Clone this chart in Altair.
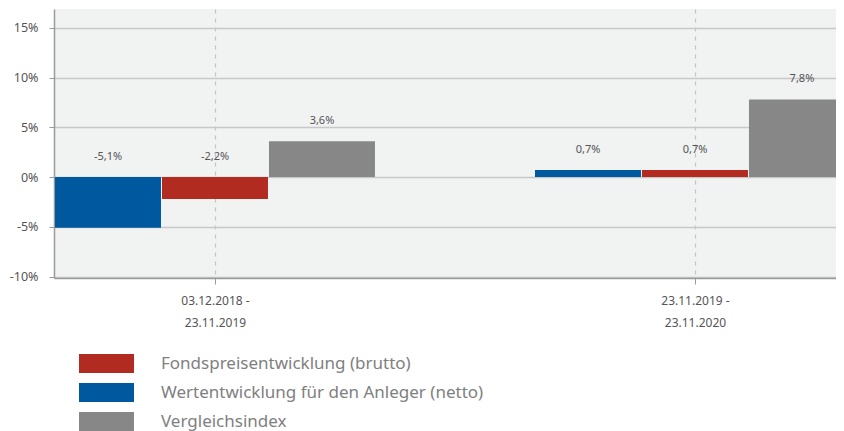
import altair as alt
import pandas as pd

periods = [["03.12.2018 -", "23.11.2019"], ["23.11.2019 -", "23.11.2020"]]
series_names = [
    "Fondspreisentwicklung (brutto)",
    "Wertentwicklung für den Anleger (netto)",
    "Vergleichsindex",
]
brutto = [-2.2, 0.7]
netto = [-5.1, 0.7]
index_vals = [3.6, 7.8]
bar_rank = {series_names[1]: 0, series_names[0]: 1, series_names[2]: 2}
colors = ["#b12b20", "#00599f", "#878787"]
y_ticks = [-10, -5, 0, 5, 10, 15]

rows = []
for i in range(len(periods)):
    for name, vals in zip(series_names, [brutto, netto, index_vals]):
        rows.append({"g": i, "rank": bar_rank[name], "series": name, "value": vals[i]})
df = pd.DataFrame(rows)

FONT = "Noto Sans"
STEP = 0.2229   # group-relative spacing of bars
BW = 0.2208     # bar width in group units

label_expr = "datum.value == 0 ? ['{a}', '{b}'] : ['{c}', '{d}']".format(
    a=periods[0][0], b=periods[0][1], c=periods[1][0], d=periods[1][1]
)

x_scale = alt.Scale(domain=[-0.3354, 1.2938], nice=False, zero=False)
y_scale = alt.Scale(domain=[-10.15, 16.9], nice=False, zero=False)

base = alt.Chart(df).transform_calculate(
    xc=f"datum.g + (datum.rank - 1) * {STEP}",
    x0=f"datum.g + (datum.rank - 1) * {STEP} - {BW / 2}",
    x1=f"datum.g + (datum.rank - 1) * {STEP} + {BW / 2}",
    ytop="max(datum.value, 0)",
    label="(datum.value < 0 ? '-' : '') + replace(format(abs(datum.value), '.1f'), '.', ',') + '%'",
)

bars = base.mark_bar(clip=True).encode(
    x=alt.X(
        "x0:Q",
        scale=x_scale,
        title=None,
        axis=alt.Axis(
            values=[0, 1],
            grid=True,
            gridDash=[4, 5],
            gridColor="#c4c4c4",
            gridWidth=1.2,
            labelAngle=0,
            labelExpr=label_expr,
            labelLineHeight=22,
            labelFontSize=12,
            labelColor="#555555",
            labelPadding=11,
            labelFlush=False,
            tickSize=6,
            tickColor="#9a9a9a",
            domainColor="#9a9a9a",
            domainWidth=1.5,
        ),
    ),
    x2="x1:Q",
    y=alt.Y(
        "value:Q",
        scale=y_scale,
        title=None,
        axis=alt.Axis(
            values=y_ticks,
            labelExpr="datum.value + '%'",
            grid=True,
            gridColor="#c8c8c8",
            gridWidth=1.5,
            labelFontSize=12.5,
            labelColor="#555555",
            labelPadding=11,
            tickSize=5,
            tickColor="#9a9a9a",
            domainColor="#9a9a9a",
            domainWidth=1.5,
        ),
    ),
    y2=alt.datum(0),
    color=alt.Color(
        "series:N",
        scale=alt.Scale(domain=series_names, range=colors),
        legend=alt.Legend(
            title=None,
            orient="none",
            legendX=42.5,
            legendY=344.5,
            padding=0,
            symbolType="M-2.75,-0.95H2.75V0.95H-2.75Z",
            symbolSize=400,
            symbolStrokeWidth=0,
            symbolOpacity=1,
            labelFontSize=17,
            labelColor="#808080",
            labelOffset=44.5,
            rowPadding=9,
            labelLimit=600,
        ),
    ),
)

labels = base.mark_text(
    dy=-20, baseline="middle", fontSize=11, color="#555555", clip=True
).encode(
    x=alt.X("xc:Q", scale=x_scale),
    y=alt.Y("ytop:Q", scale=y_scale),
    text="label:N",
)

chart = alt.layer(bars, labels).properties(
    width=782,
    height=269,
    autosize=alt.AutoSizeParams(type="none"),
    padding={"left": 46, "top": 1, "right": 0, "bottom": 153},
).configure(
    font=FONT,
).configure_view(
    fill="#f1f2f2",
    stroke=None,
)

chart.save("out.html", embed_options={"renderer": "svg", "actions": False})
